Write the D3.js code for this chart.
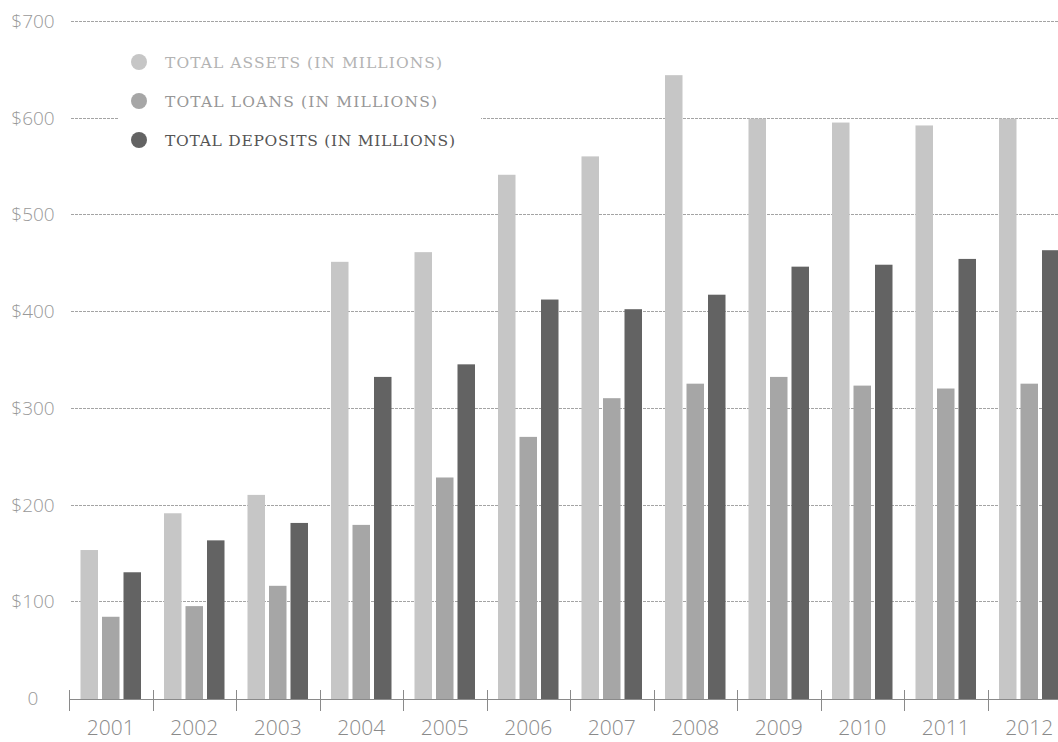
<!DOCTYPE html>
<html>
<head>
<meta charset="utf-8">
<script src="https://cdn.jsdelivr.net/npm/d3@7"></script>
<style>
  body { margin: 0; background: #fff; }
  svg { display: block; }
</style>
</head>
<body>
<div id="chart"></div>
<script>
var svgWidth = 1058;
var svgHeight = 742;

// data (millions of dollars)
var years = ["2001", "2002", "2003", "2004", "2005", "2006", "2007", "2008", "2009", "2010", "2011", "2012"];
var assets = [153, 191, 210, 451, 461, 541, 560, 644, 599, 595, 592, 599];
var loans = [84, 95, 116, 179, 228, 270, 310, 325, 332, 323, 320, 325];
var deposits = [130, 163, 181, 332, 345, 412, 402, 417, 446, 448, 454, 463];

var seriesKeys = ["assets", "loans", "deposits"];
var seriesLabels = ["TOTAL ASSETS (IN MILLIONS)", "TOTAL LOANS (IN MILLIONS)", "TOTAL DEPOSITS (IN MILLIONS)"];
var yTicks = [0, 100, 200, 300, 400, 500, 600, 700];

var barColors = { assets: "#c6c6c6", loans: "#a6a6a6", deposits: "#636363" };
var legendText = ["#b3b3b3", "#979797", "#555555"];

var data = years.map((yr, i) => ({ year: yr, assets: assets[i], loans: loans[i], deposits: deposits[i] }));

var svg = d3.select("#chart")
  .append("svg")
  .attr("width", svgWidth)
  .attr("height", svgHeight);

var left = 69;
var step = 83.5;

var x0 = d3.scaleBand()
  .domain(years)
  .range([left, left + step * years.length])
  .padding(0);

var x1 = d3.scaleBand()
  .domain(seriesKeys)
  .range([0, x0.bandwidth()])
  .paddingInner(0.186)
  .paddingOuter(0.535);

var y = d3.scaleLinear()
  .domain([0, 700])
  .range([698, 21]);

// gridlines
svg.append("g")
  .selectAll("line")
  .data(yTicks.filter(t => t > 0))
  .enter()
  .append("line")
  .attr("x1", left + 2)
  .attr("x2", svgWidth)
  .attr("y1", d => Math.round(y(d)) + 0.5)
  .attr("y2", d => Math.round(y(d)) + 0.5)
  .attr("stroke", "#a4a4a4")
  .attr("stroke-width", 1)
  .attr("stroke-dasharray", "3,1");

// y labels
svg.append("g")
  .selectAll("text")
  .data(yTicks)
  .enter()
  .append("text")
  .attr("x", 33)
  .attr("y", d => y(d) + 7)
  .attr("text-anchor", "middle")
  .attr("fill", "#999")
  .style("font-family", "'Open Sans', sans-serif")
  .style("font-weight", 300)
  .style("font-size", "19px")
  .text(d => d === 0 ? "0" : "$" + d);

// bars
var groups = svg.append("g")
  .selectAll("g")
  .data(data)
  .enter()
  .append("g")
  .attr("transform", d => `translate(${x0(d.year)},0)`);

groups.selectAll("rect")
  .data(d => seriesKeys.map(k => ({ key: k, value: d[k] })))
  .enter()
  .append("rect")
  .attr("x", d => x1(d.key))
  .attr("y", d => y(d.value))
  .attr("width", x1.bandwidth())
  .attr("height", d => y(0) + 1 - y(d.value))
  .attr("fill", d => barColors[d.key]);

// bottom axis
var axisY = y(0) + 1;
var bottomAxis = d3.axisBottom(x0).tickSize(0).tickPadding(0);
var axisG = svg.append("g")
  .attr("transform", `translate(0, ${axisY})`)
  .call(bottomAxis);
axisG.select(".domain").remove();
axisG.selectAll("text")
  .attr("y", 36)
  .attr("dy", 0)
  .attr("fill", "#8a8a8a")
  .style("font-family", "'Open Sans', sans-serif")
  .style("font-weight", 300)
  .style("font-size", "21px");

svg.append("line")
  .attr("x1", left)
  .attr("x2", svgWidth)
  .attr("y1", axisY + 0.5)
  .attr("y2", axisY + 0.5)
  .attr("stroke", "#8a8a8a")
  .attr("stroke-width", 1);

// group separator ticks
svg.append("g")
  .selectAll("line")
  .data(years)
  .enter()
  .append("line")
  .attr("x1", d => Math.round(x0(d)) + 0.5)
  .attr("x2", d => Math.round(x0(d)) + 0.5)
  .attr("y1", axisY - 9)
  .attr("y2", axisY + 12)
  .attr("stroke", "#8a8a8a")
  .attr("stroke-width", 1);

// legend (white box hides the $600 gridline behind it)
var legend = svg.append("g");
legend.append("rect")
  .attr("x", 118)
  .attr("y", 40)
  .attr("width", 363)
  .attr("height", 120)
  .attr("fill", "#fff");

var legendRows = legend.selectAll("g")
  .data(seriesKeys)
  .enter()
  .append("g")
  .attr("transform", (d, i) => `translate(139, ${62 + i * 39})`);

legendRows.append("circle")
  .attr("r", 8)
  .attr("fill", d => barColors[d]);

var legendWidths = [277, 272, 290];
legendRows.append("text")
  .attr("x", 26)
  .attr("y", 5.5)
  .attr("fill", (d, i) => legendText[i])
  .attr("textLength", (d, i) => legendWidths[i])
  .attr("lengthAdjust", "spacing")
  .style("font-family", "'DejaVu Serif', serif")
  .style("font-size", "15.5px")
  .text((d, i) => seriesLabels[i]);
</script>
</body>
</html>
